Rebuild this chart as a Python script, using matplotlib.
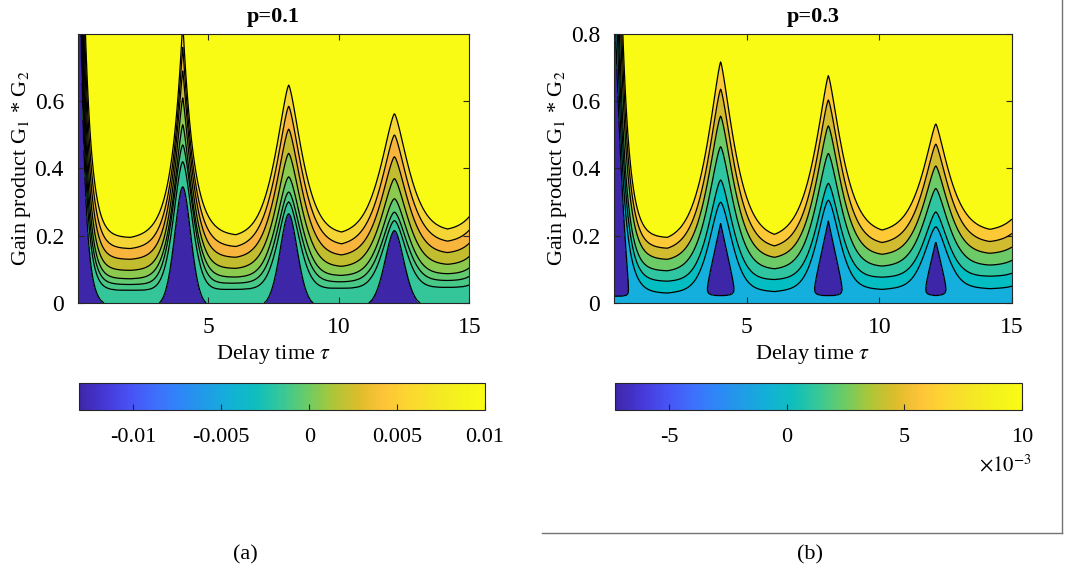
import numpy as np
import matplotlib
matplotlib.use('Agg')
import matplotlib.pyplot as plt
from matplotlib.colors import LinearSegmentedColormap, Normalize
from matplotlib.cm import ScalarMappable
from matplotlib.lines import Line2D

plt.rcParams['font.family'] = ['Liberation Serif', 'DejaVu Serif']
plt.rcParams['mathtext.fontset'] = 'stix'

## parula-like colormap (matlab default)
parula = LinearSegmentedColormap.from_list('parula', [
    (0.000, (0.2422, 0.1504, 0.6603)), (0.0625, (0.2720, 0.2190, 0.8400)),
    (0.125, (0.2810, 0.3228, 0.9579)), (0.1875, (0.2440, 0.4330, 0.9900)),
    (0.250, (0.1786, 0.5289, 0.9682)), (0.3125, (0.1250, 0.6140, 0.9040)),
    (0.375, (0.0689, 0.6948, 0.8394)), (0.4375, (0.0590, 0.7450, 0.7400)),
    (0.500, (0.2161, 0.7843, 0.5923)), (0.5625, (0.4200, 0.8000, 0.4000)),
    (0.625, (0.6720, 0.7793, 0.2227)), (0.6875, (0.8600, 0.7400, 0.1700)),
    (0.750, (0.9970, 0.7659, 0.2199)), (0.8125, (0.9900, 0.8400, 0.1900)),
    (0.875, (0.9600, 0.9000, 0.1500)), (0.9375, (0.9600, 0.9500, 0.1100)),
    (1.000, (0.9769, 0.9839, 0.0805))])

# peak positions in delay time (last one is just outside the plot)
tau_peaks = [0.0, 4.02, 8.08, 12.13, 16.2]

# ---------- p=0.1 ----------
levels_a = [0.002, 0.003, 0.004, 0.005, 0.006, 0.007, 0.008, 0.009]
crange_a = [-0.0131, 0.01]
# contour height in the valleys (between peaks), one row per level
valley_a = [[-0.010, -0.010, -0.010, -0.010],
            [0.038, 0.041, 0.044, 0.047],
            [0.055, 0.059, 0.063, 0.067],
            [0.072, 0.077, 0.082, 0.087],
            [0.097, 0.103, 0.109, 0.115],
            [0.130, 0.136, 0.143, 0.150],
            [0.162, 0.168, 0.176, 0.184],
            [0.195, 0.203, 0.211, 0.220]]
# contour height at the peaks
peak_a = [[1.47, 0.345, 0.265, 0.215, 0.15],
          [1.55, 0.42, 0.30, 0.245, 0.20],
          [1.62, 0.47, 0.33, 0.27, 0.24],
          [1.70, 0.53, 0.375, 0.31, 0.28],
          [1.78, 0.61, 0.445, 0.37, 0.33],
          [1.85, 0.69, 0.517, 0.435, 0.38],
          [1.92, 0.76, 0.585, 0.50, 0.43],
          [2.00, 0.84, 0.648, 0.563, 0.48]]
# half width of each peak and sharpness (1 = cusp, 2 = bell)
width_a = [[0.20, 0.44, 0.48, 0.52, 0.52],
           [0.21, 0.50, 0.58, 0.62, 0.62],
           [0.22, 0.52, 0.63, 0.67, 0.67],
           [0.23, 0.50, 0.66, 0.70, 0.70],
           [0.24, 0.48, 0.68, 0.72, 0.72],
           [0.25, 0.46, 0.70, 0.74, 0.74],
           [0.26, 0.44, 0.72, 0.76, 0.76],
           [0.27, 0.42, 0.73, 0.78, 0.78]]
shape_a = [[1.0, 1.8, 1.8, 1.8, 1.8],
           [1.0, 1.7, 1.7, 1.7, 1.7],
           [1.0, 1.6, 1.65, 1.65, 1.65],
           [1.0, 1.4, 1.6, 1.6, 1.6],
           [1.0, 1.3, 1.5, 1.5, 1.5],
           [1.0, 1.2, 1.45, 1.45, 1.45],
           [1.0, 1.1, 1.4, 1.4, 1.4],
           [1.0, 1.0, 1.4, 1.4, 1.4]]
fill_a = ['#3e26a8', '#34c698', '#48c887', '#62ca70', '#8cc94f',
          '#c2bc2f', '#f8b53e', '#f4d535', '#f9fb14']

# ---------- p=0.3 ----------
levels_b = [0.0, 0.0015, 0.003, 0.0045, 0.006, 0.0075, 0.009]
crange_b = [-0.0073, 0.01]
valley_b = [[-0.43, -0.43, -0.43, -0.43],
            [0.039, 0.043, 0.049, 0.051],
            [0.065, 0.070, 0.077, 0.080],
            [0.096, 0.102, 0.110, 0.113],
            [0.130, 0.136, 0.145, 0.148],
            [0.163, 0.170, 0.180, 0.183],
            [0.195, 0.204, 0.217, 0.219]]
peak_b = [[0.95, 0.238, 0.245, 0.185, -0.05],
          [1.30, 0.30, 0.306, 0.227, 0.15],
          [1.45, 0.366, 0.356, 0.271, 0.20],
          [1.60, 0.465, 0.445, 0.341, 0.26],
          [1.80, 0.556, 0.527, 0.408, 0.32],
          [2.00, 0.636, 0.604, 0.473, 0.38],
          [2.20, 0.717, 0.676, 0.533, 0.45]]
width_b = [[0.55, 10.0, 10.0, 10.0, 10.0],
           [0.26, 0.60, 0.60, 0.60, 0.60],
           [0.27, 0.64, 0.64, 0.64, 0.64],
           [0.27, 0.68, 0.68, 0.68, 0.68],
           [0.28, 0.70, 0.70, 0.70, 0.70],
           [0.28, 0.72, 0.72, 0.72, 0.72],
           [0.28, 0.74, 0.74, 0.74, 0.74]]
shape_b = [[1.0, 1.0, 1.0, 1.0, 1.0],
           [1.0, 1.6, 1.6, 1.6, 1.6],
           [1.0, 1.5, 1.5, 1.5, 1.5],
           [1.0, 1.45, 1.45, 1.45, 1.45],
           [1.0, 1.4, 1.4, 1.4, 1.4],
           [1.0, 1.35, 1.35, 1.35, 1.35],
           [1.0, 1.3, 1.3, 1.3, 1.3]]
fill_b = ['#3e26a8', '#14afdc', '#02bec2', '#2fc5a0', '#6dcb67',
          '#d1bb2f', '#fdc936', '#f9fb14']
floor_b = 0.02   # bottom of the closed islands

tau = np.linspace(0, 15, 751)
gain = np.linspace(0, 0.8, 401)


def cusp(d, w, a, p):
    d = np.clip(d, 0, w)
    cw = np.exp(-(w / a) ** p)
    return (np.exp(-(d / a) ** p) - cw) / (1 - cw)


def level_curve(valley, peak, width, shape):
    P = np.array(tau_peaks)
    mids = (P[:-1] + P[1:]) / 2
    g = np.interp(tau, mids, valley)
    for j in range(len(P)):
        amp = peak[j] - np.interp(P[j], mids, valley)
        d = tau - P[j]
        wr = mids[j] - P[j] if j < len(mids) else 2.0
        wl = P[j] - mids[j - 1] if j > 0 else 2.0
        g = g + np.where(d >= 0, amp * cusp(d, wr, width[j], shape[j]),
                         amp * cusp(-d, wl, width[j], shape[j]))
    return g


def make_field(valley, peak, width, shape, levels, crange, floor=None):
    K = len(levels)
    curves = np.array([level_curve(valley[k], peak[k], width[k], shape[k])
                       for k in range(K)])
    curves = np.sort(curves, axis=0)
    idx = np.empty((len(gain), len(tau)))
    for i in range(len(tau)):
        xp = np.concatenate([[curves[0, i] - 1], curves[:, i], [curves[-1, i] + 1]])
        fp = np.concatenate([[-4], np.arange(K), [K - 1 + 20]])
        idx[:, i] = np.interp(gain, xp, fp)
    if floor is not None:
        # lift the bottom strip so the islands close above G=0
        G = gain[:, None]
        fl = 0.25 - G * 0.25 / floor
        eps = 0.3
        idx = (idx + fl + np.sqrt((idx - fl) ** 2 + eps ** 2)) / 2
    lv = np.concatenate([[crange[0]], levels, [crange[1]]])
    return np.interp(idx, np.arange(-1, K + 1), lv)


def draw(ax, cax, Z, levels, crange, fills, title, yt):
    T, G = np.meshgrid(tau, gain)
    lv = [crange[0]] + list(levels) + [crange[1]]
    ax.contourf(T, G, Z, levels=lv, colors=fills)
    ax.contour(T, G, Z, levels=levels, colors='k', linewidths=0.9)
    ax.set_xlim(0, 15)
    ax.set_ylim(0, 0.8)
    ax.set_xticks([5, 10, 15])
    ax.set_xticklabels(['5', '10', '15'])
    ax.set_yticks(yt)
    ax.set_yticklabels(['0' if v == 0 else '%g' % v for v in yt])
    ax.tick_params(direction='in', top=True, right=True, length=4,
                   labelsize=17, color='#262626')
    ax.tick_params(axis='x', pad=10)
    ax.tick_params(axis='y', pad=10)
    for s in ax.spines.values():
        s.set_color('#262626')
        s.set_linewidth(0.8)
    ax.set_title(title, fontsize=16, fontweight='bold', pad=8.5)
    ax.set_xlabel(r'Delay time $\tau$', fontsize=16, labelpad=4)
    ax.set_ylabel(r'Gain product G$_1$ * G$_2$', fontsize=16, labelpad=1)
    sm = ScalarMappable(norm=Normalize(*crange), cmap=parula)
    cb = plt.colorbar(sm, cax=cax, orientation='horizontal')
    cb.outline.set_edgecolor('#262626')
    cb.outline.set_linewidth(0.8)
    cax.tick_params(direction='in', length=4, labelsize=16, color='#262626', pad=13)
    return cb


fig = plt.figure(figsize=(10.73, 5.82), dpi=100)
ax_a = fig.add_axes([0.0725, 0.4794, 0.3649, 0.4622])
ax_b = fig.add_axes([0.5722, 0.4794, 0.3709, 0.4622])
cax_a = fig.add_axes([0.0736, 0.2955, 0.3784, 0.0464])
cax_b = fig.add_axes([0.5732, 0.2955, 0.3793, 0.0464])

Za = make_field(valley_a, peak_a, width_a, shape_a, levels_a, crange_a)
Zb = make_field(valley_b, peak_b, width_b, shape_b, levels_b, crange_b, floor=floor_b)

cb = draw(ax_a, cax_a, Za, levels_a, crange_a, fill_a, 'p=0.1', [0, 0.2, 0.4, 0.6])
cb.set_ticks([-0.01, -0.005, 0, 0.005, 0.01])
cb.set_ticklabels(['-0.01', '-0.005', '0', '0.005', '0.01'])
cb = draw(ax_b, cax_b, Zb, levels_b, crange_b, fill_b, 'p=0.3', [0, 0.2, 0.4, 0.6, 0.8])
cb.set_ticks([-0.005, 0, 0.005, 0.01])
cb.set_ticklabels(['-5', '0', '5', '10'])

fig.text(0.937, 0.20, r'$\times10^{-3}$', fontsize=15, ha='center', va='center')
fig.text(245 / 1073, 0.046, '(a)', fontsize=16, ha='center', va='center')
fig.text(810 / 1073, 0.046, '(b)', fontsize=16, ha='center', va='center')

# frame around panel b
yb = 1 - 533 / 582
fig.add_artist(Line2D([542 / 1073, 1062 / 1073], [yb, yb], color='0.45', lw=1))
fig.add_artist(Line2D([1062 / 1073, 1062 / 1073], [yb, 1.0], color='0.45', lw=1))

fig.savefig('out.png', dpi=100)
